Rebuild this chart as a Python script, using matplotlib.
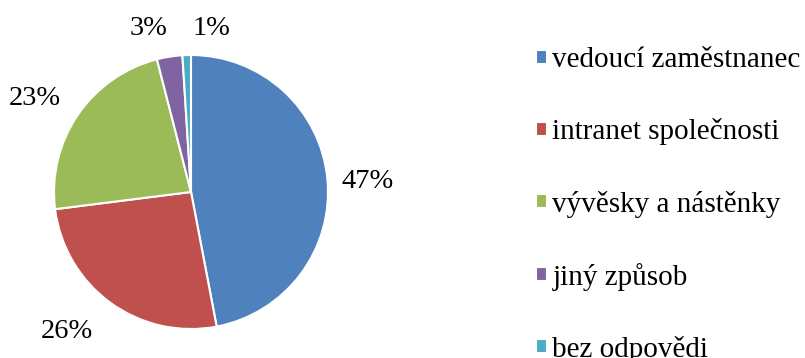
import numpy as np
import matplotlib
matplotlib.use('Agg')
import matplotlib.pyplot as plt

matplotlib.rcParams['font.family'] = ['Liberation Serif', 'DejaVu Serif']

categories = ['vedoucí zaměstnanec', 'intranet společnosti', 'vývěsky a nástěnky',
              'jiný způsob', 'bez odpovědi']
shares = [47, 26, 23, 3, 1]
colors = ['#4F81BD', '#C0504D', '#9BBB59', '#8064A2', '#4BACC6']

# where each percentage sits, in pie radii (x, y) from the centre
label_xy = [(1.292, 0.102), (-0.905, -0.993), (-1.139, 0.708),
            (-0.307, 1.212), (0.153, 1.212)]

fig = plt.figure(figsize=(8.05, 3.58), dpi=100)
ax = fig.add_axes([54 / 805, 29 / 358, 274 / 805, 274 / 358])

wedges, texts = ax.pie(
    shares, colors=colors, startangle=90, counterclock=False,
    wedgeprops=dict(edgecolor='white', linewidth=1.5))
ax.set_xlim(-1, 1)
ax.set_ylim(-1, 1)
ax.set_aspect('equal')

for share, (x, y) in zip(shares, label_xy):
    ax.text(x, y, f'{share}%', fontsize=20.5, ha='center',
            va='center_baseline', clip_on=False)

fig.legend(wedges, categories, loc='center left',
           bbox_to_anchor=(536 / 805, 1 - 205 / 358), frameon=False,
           fontsize=21, handlelength=0.36, handleheight=0.36,
           handletextpad=0.2, labelspacing=1.545, borderpad=0, borderaxespad=0)

fig.savefig('out.png', dpi=100)
